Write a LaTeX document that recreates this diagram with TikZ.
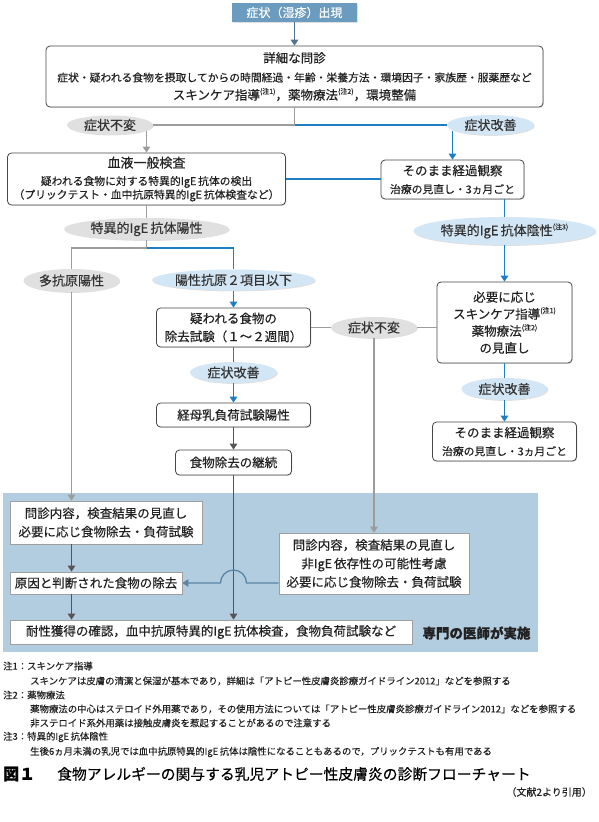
\documentclass[tikz,border=0pt]{standalone}
\usepackage{fontspec}
\setmainfont{Noto Sans CJK JP}[FakeBold=0.35]
\usetikzlibrary{arrows.meta, shapes.geometric, shadows, positioning}
\usepackage{xcolor}
\definecolor{fBlue}{HTML}{1F7EC1}
\definecolor{fGrey}{HTML}{9C9C9C}
\definecolor{fDark}{HTML}{555555}
\definecolor{fSteel}{HTML}{6B9BBE}
\definecolor{fArrow}{HTML}{4F7390}
\definecolor{fPanel}{HTML}{B3CDE0}
\definecolor{fJump}{HTML}{5A86A5}
\definecolor{fText}{HTML}{222222}
\definecolor{fEllG}{HTML}{E0E0E0}
\definecolor{fEllB}{HTML}{D3E6F5}
\definecolor{fEdge}{HTML}{474747}

\newcommand{\fs}[2]{\fontsize{#1}{#2}\selectfont}
\newcommand{\chuki}[1]{\raisebox{0.45em}{\fs{7}{7}(注#1)}}

\tikzset{
  softshadow/.style={drop shadow={shadow xshift=0.8pt, shadow yshift=-0.9pt, opacity=0.25}},
  flowbox/.style={draw=fEdge, line width=0.8pt, rounded corners=4pt, fill=white, align=center,
                  text=fText, inner sep=1pt, softshadow, font=\fs{12.5}{18}},
  panelbox/.style={draw=gray!75, line width=0.7pt, fill=white, align=center,
                   text=fText, inner sep=1pt, softshadow, font=\fs{12.5}{18.5}},
  greyell/.style={ellipse, fill=fEllG, inner xsep=-6pt, inner ysep=-2pt, text=black!80,
                  softshadow, font=\fs{13}{15}},
  blueell/.style={ellipse, fill=fEllB, inner xsep=-6pt, inner ysep=-2pt, text=black!80,
                  softshadow, font=\fs{13}{15}},
  gline/.style={fGrey, line width=1.3pt},
  bline/.style={fBlue, line width=1.3pt},
  dline/.style={fDark, line width=1.4pt},
  jline/.style={fJump, line width=1.3pt},
  notetext/.style={anchor=west, inner sep=0pt, text=fText, font=\fs{9.4}{11}}
}

\begin{document}
\begin{tikzpicture}[x=1pt, y=-1pt, >={Triangle[length=6pt, width=7.5pt]}]
  \useasboundingbox (0,0) rectangle (599,822);
  % panel for the specialist part
  \fill[fPanel] (3,493) rectangle (538,652);

  % upper part
  \node[fill=fSteel, text=white, softshadow, minimum width=125pt, minimum height=19pt,
        inner sep=0pt, font=\fs{12}{14}] (sym) at (294.5,12.5) {症状（湿疹）出現};
  \node[flowbox, minimum width=497pt, minimum height=61pt] (monshin) at (294.5,76.5)
    {詳細な問診\\[1pt]
     {\fs{10.8}{18}症状・疑われる食物を摂取してからの時間経過・年齢・栄養方法・環境因子・家族歴・服薬歴など}\\
     スキンケア指導\chuki{1}，薬物療法\chuki{2}，環境整備};
  \node[greyell, minimum width=86pt, minimum height=19pt] (ep1) at (110,125) {症状不変};
  \node[blueell, minimum width=87pt, minimum height=20pt] (ei1) at (490.5,125) {症状改善};
  \node[flowbox, minimum width=278pt, minimum height=52pt, font=\fs{13}{13.5}] (ketsu) at (146.5,179)
    {血液一般検査\\[4pt]
     {\fs{10.8}{13.5}疑われる食物に対する特異的IgE\,抗体の検出}\\
     {\fs{10.8}{13.5}（プリックテスト・血中抗原特異的IgE\,抗体検査など）}};
  \node[flowbox, minimum width=143pt, minimum height=39pt] (sono1) at (452.5,179.5)
    {そのまま経過観察\\{\fs{10.8}{18}治療の見直し・3ヵ月ごと}};

  \node[greyell, minimum width=165pt, minimum height=22pt] (yousei) at (146.5,229) {特異的IgE\,抗体陽性};
  \node[blueell, minimum width=182pt, minimum height=28pt] (insei) at (504.5,231)
    {特異的IgE\,抗体陰性\chuki{3}};
  \node[greyell, minimum width=96pt, minimum height=23pt] (tako) at (71.5,280.5) {多抗原陽性};
  \node[blueell, minimum width=163pt, minimum height=21pt] (nikou) at (233.5,280) {陽性抗原２項目以下};

  % middle column
  \node[flowbox, minimum width=154pt, minimum height=39pt] (jokyo) at (233.5,327.5)
    {疑われる食物の\\除去試験（１～２週間）};
  \node[greyell, minimum width=86pt, minimum height=21pt] (ep2) at (374,327.5) {症状不変};
  \node[flowbox, minimum width=135pt, minimum height=81pt, font=\fs{12.5}{17}] (hitsuyo) at (504.5,322.5)
    {必要に応じ\\スキンケア指導\chuki{1}\\薬物療法\chuki{2}\\の見直し};
  \node[blueell, minimum width=87pt, minimum height=21pt] (ei2) at (233.5,372.5) {症状改善};
  \node[blueell, minimum width=86pt, minimum height=22pt] (ei3) at (504.5,389) {症状改善};
  \node[flowbox, minimum width=154pt, minimum height=24pt] (bonyu) at (233.5,415) {経母乳負荷試験陽性};
  \node[flowbox, minimum width=144pt, minimum height=39pt] (sono2) at (504.5,441.5)
    {そのまま経過観察\\{\fs{10.8}{18}治療の見直し・3ヵ月ごと}};
  \node[flowbox, minimum width=116pt, minimum height=25pt] (shoku) at (233.5,462.5) {食物除去の継続};

  % specialist part
  \node[panelbox, minimum width=192pt, minimum height=43pt] (mon1) at (106,522.5)
    {問診内容，検査結果の見直し\\必要に応じ食物除去・負荷試験};
  \node[panelbox, minimum width=172pt, minimum height=22pt] (gen) at (96,583) {原因と判断された食物の除去};
  \node[panelbox, minimum width=190pt, minimum height=61pt] (mon2) at (374,563.5)
    {問診内容，検査結果の見直し\\非IgE\,依存性の可能性考慮\\必要に応じ食物除去・負荷試験};
  \node[panelbox, minimum width=402pt, minimum height=24pt] (taisei) at (211,632)
    {耐性獲得の確認，血中抗原特異的IgE\,抗体検査，食物負荷試験など};
  \node[text=fText, inner sep=0pt, font=\fs{13.5}{15}\bfseries] (senmon) at (476.5,633) {専門の医師が実施};

  % connectors
  \coordinate (j1) at (294.5,125);
  \coordinate (j2) at (146.5,248);
  \coordinate (hop) at (shoku.south |- gen.east);
  \draw[fArrow, line width=1.3pt, ->] (sym) -- (monshin);
  \draw[gline] (monshin.south) -- (j1) -- (ep1.east);
  \draw[bline] (j1) -- (ei1.west);
  \draw[gline, ->] ([yshift=4pt]ep1.south -| ketsu.north) -- (ketsu.north);
  \draw[bline, ->] ([yshift=4pt]ei1.south -| sono1.north) -- (sono1.north);
  \draw[bline] (ketsu.east) -- (ketsu.east -| sono1.west);
  \draw[bline] (sono1.south -| insei.north) -- (insei.north);
  \draw[bline, ->] (insei) -- (hitsuyo);
  \draw[gline] (ketsu) -- (yousei);
  \draw[gline] (yousei.south) -- (j2) -| (tako.north);
  \draw[bline] (j2) -| (nikou.north);
  \draw[bline, ->] (nikou) -- (jokyo);
  \draw[bline] (jokyo) -- (ei2);
  \draw[bline, ->] (ei2) -- (bonyu);
  \draw[dline, ->] (bonyu) -- (shoku);
  \draw[dline, ->] (shoku.south) -- (shoku.south |- taisei.north);
  \draw[gline] (jokyo) -- (ep2);
  \draw[gline] (ep2.east) -- (ep2.east -| hitsuyo.west);
  \draw[gline, ->] (ep2) -- (mon2);
  \draw[bline] (hitsuyo) -- (ei3);
  \draw[bline, ->] (ei3) -- (sono2);
  \draw[gline, ->] (tako.south) -- (tako.south |- mon1.north);
  \draw[dline, ->] (tako.south |- mon1.south) -- (tako.south |- gen.north);
  \draw[dline, ->] (tako.south |- gen.south) -- (tako.south |- taisei.north);
  \draw[jline, ->] (mon2.west |- gen.east) -- ([xshift=13pt]hop)
    arc[start angle=0, end angle=180, radius=13pt] -- (gen.east);

  % notes
  \node[notetext] (n1) at (3,666) {注1：スキンケア指導};
  \node[notetext] (n1a) at (30,681) {スキンケアは皮膚の清潔と保湿が基本であり，詳細は「アトピー性皮膚炎診療ガイドライン2012」などを参照する};
  \node[notetext] (n2) at (3,695) {注2：薬物療法};
  \node[notetext] (n2a) at (30,709) {薬物療法の中心はステロイド外用薬であり，その使用方法については「アトピー性皮膚炎診療ガイドライン2012」などを参照する};
  \node[notetext] (n2b) at (30,723) {非ステロイド系外用薬は接触皮膚炎を惹起することがあるので注意する};
  \node[notetext] (n3) at (3,737) {注3：特異的IgE\,抗体陰性};
  \node[notetext] (n3a) at (30,752) {生後6ヵ月未満の乳児では血中抗原特異的IgE\,抗体は陰性になることもあるので，プリックテストも有用である};

  % caption
  \node[anchor=west, inner sep=0pt, text=black, font=\fs{16}{18}\bfseries] (capfig) at (3,774) {図１};
  \node[anchor=west, inner sep=0pt, text=black, font=\fs{14.8}{17}] (captxt) at (57,774)
    {食物アレルギーの関与する乳児アトピー性皮膚炎の診断フローチャート};
  \node[anchor=east, inner sep=0pt, text=fText, font=\fs{10}{12}] (cite) at (592,792) {（文献2より引用）};
\end{tikzpicture}
\end{document}
